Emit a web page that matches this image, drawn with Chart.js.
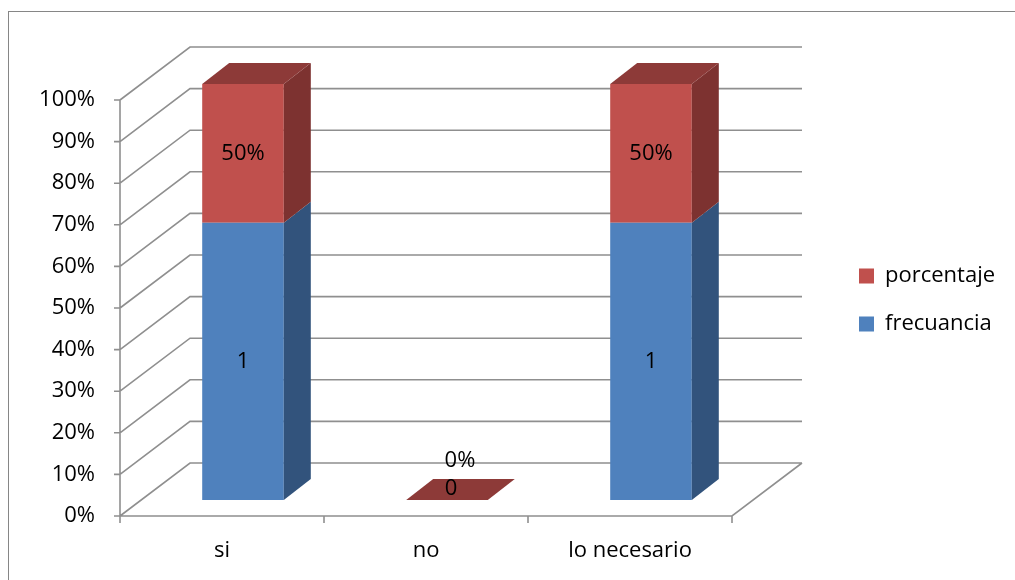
<!DOCTYPE html>
<html lang="es">
<head>
<meta charset="UTF-8">
<title>frecuancia / porcentaje</title>
<script src="https://cdn.jsdelivr.net/npm/chart.js"></script>
<style>
  html, body { margin: 0; padding: 0; background: #fff; }
  canvas { display: block; }
</style>
</head>
<body>
<canvas id="chart" width="1015" height="580"></canvas>
<script>
  const categories = ['si', 'no', 'lo necesario'];
  const frecuancia = [1, 0, 1];
  const porcentaje = [0.5, 0, 0.5];
  const seriesNames = ['frecuancia', 'porcentaje'];
  const seriesFront = ['#4F81BD', '#C0504D'];
  const seriesSide = ['#32537C', '#7D3230'];
  const topColor = '#8D3A38';

  // 100% stacked: each column is split by its share of the category total
  const totals = categories.map((_, i) => frecuancia[i] + porcentaje[i]);
  const share = arr => arr.map((v, i) => totals[i] ? v / totals[i] : 0);
  const labelText = [v => String(v), v => Math.round(v * 100) + '%'];
  const rawValues = [frecuancia, porcentaje];

  const FONT = '"Open Sans", sans-serif';
  const GRID = '#8f8f8f';
  const WALL = { x: 70, y: -53 };   // back wall relative to the front axis plane
  const FACE = { x: 21, y: -16 };   // bar front face relative to the front plane
  const DEPTH = { x: 27, y: -21 };  // bar depth
  const AREA_RIGHT = 732;
  const LEGEND_X = 859, LEGEND_DY = -40;
  const LP = 26, BOX = 15, FS = 22;

  Chart.defaults.font.family = FONT;
  Chart.defaults.font.size = FS;
  Chart.defaults.color = '#000';

  const poly = (ctx, pts, fill) => {
    ctx.beginPath();
    ctx.moveTo(pts[0][0], pts[0][1]);
    pts.slice(1).forEach(p => ctx.lineTo(p[0], p[1]));
    ctx.closePath();
    ctx.fillStyle = fill;
    ctx.fill();
  };

  const box3d = {
    id: 'box3d',
    beforeDraw(chart) {
      const { ctx } = chart;
      ctx.save();
      ctx.strokeStyle = '#868686';
      ctx.lineWidth = 1;
      ctx.strokeRect(8.5, 11.5, 1200, 800);
      ctx.restore();
    },
    afterLayout(chart) {
      const lg = chart.legend;
      lg.left = LEGEND_X - LP;
      lg.right = lg.left + lg.width;
      lg.top += LEGEND_DY;
      lg.bottom += LEGEND_DY;
    },
    beforeDatasetsDraw(chart) {
      const { ctx, chartArea: a, scales: { x, y } } = chart;
      ctx.save();
      ctx.strokeStyle = GRID;
      ctx.lineWidth = 1.6;
      ctx.beginPath();
      y.ticks.forEach(t => {
        const py = y.getPixelForValue(t.value);
        ctx.moveTo(a.left, py);
        ctx.lineTo(a.left + WALL.x, py + WALL.y);
        ctx.lineTo(a.right + WALL.x, py + WALL.y);
        ctx.moveTo(a.left - 6, py);
        ctx.lineTo(a.left, py);
      });
      ctx.moveTo(a.left, a.top);
      ctx.lineTo(a.left, a.bottom);
      ctx.lineTo(a.right, a.bottom);
      ctx.lineTo(a.right + WALL.x, a.bottom + WALL.y);
      const cw = (a.right - a.left) / categories.length;
      for (let i = 0; i <= categories.length; i++) {
        const px = x.getPixelForValue(0) - cw / 2 + i * cw;
        ctx.moveTo(px, a.bottom);
        ctx.lineTo(px, a.bottom + 7);
      }
      ctx.stroke();
      ctx.restore();

      ctx.save();
      ctx.translate(FACE.x, FACE.y);
    },
    afterDatasetsDraw(chart) {
      const { ctx } = chart;
      const last = chart.data.datasets.length - 1;
      chart.data.datasets.forEach((ds, di) => {
        chart.getDatasetMeta(di).data.forEach(el => {
          const l = el.x - el.width / 2, r = el.x + el.width / 2;
          if (Math.abs(el.base - el.y) > 0.5) {
            poly(ctx, [[r, el.y], [r + DEPTH.x, el.y + DEPTH.y],
              [r + DEPTH.x, el.base + DEPTH.y], [r, el.base]], seriesSide[di]);
          }
          if (di === last) {
            poly(ctx, [[l, el.y], [l + DEPTH.x, el.y + DEPTH.y],
              [r + DEPTH.x, el.y + DEPTH.y], [r, el.y]], topColor);
          }
        });
      });

      // value labels
      ctx.font = FS + 'px ' + FONT;
      ctx.fillStyle = '#000';
      ctx.textAlign = 'center';
      ctx.textBaseline = 'middle';
      chart.data.datasets.forEach((ds, di) => {
        chart.getDatasetMeta(di).data.forEach((el, i) => {
          const txt = labelText[di](rawValues[di][i]);
          if (Math.abs(el.base - el.y) > 0.5) {
            ctx.fillText(txt, el.x, (el.y + el.base) / 2);
          } else if (di === 0) {
            ctx.fillText(txt, el.x + 4, el.base - 11);
          } else {
            ctx.fillText(txt, el.x + 13, el.base - 39);
          }
        });
      });
      ctx.restore();
    }
  };

  const chart = new Chart(document.getElementById('chart'), {
    type: 'bar',
    data: {
      labels: categories,
      datasets: rawValues.map((vals, di) => ({
        label: seriesNames[di],
        data: share(vals),
        backgroundColor: seriesFront[di],
        borderWidth: 0,
        yAxisID: 'y',
        clip: false,
        barPercentage: 0.4,
        categoryPercentage: 1
      }))
    },
    options: {
      responsive: false,
      animation: false,
      layout: { padding: { top: 100, left: 0, right: 0, bottom: 0 } },
      plugins: {
        tooltip: { enabled: false },
        legend: {
          position: 'right',
          reverse: true,
          labels: { boxWidth: BOX, boxHeight: BOX, padding: LP, color: '#000', font: { size: FS } }
        }
      },
      scales: {
        x: {
          stacked: true,
          grid: { display: false, drawTicks: false },
          border: { display: false },
          ticks: { padding: 22, color: '#000' },
          afterFit(s) { s.height = 64; }
        },
        y: {
          stacked: true,
          min: 0,
          max: 1,
          grid: { display: false, drawTicks: false },
          border: { display: false },
          ticks: { stepSize: 0.1, padding: 25, color: '#000', callback: v => Math.round(v * 100) + '%' },
          afterFit(s) { s.width = 120; }
        },
        // empty spacer between the plot and the legend
        gap: {
          type: 'linear',
          position: 'right',
          grid: { display: false, drawTicks: false },
          border: { display: false },
          ticks: { display: false },
          afterFit(s) {
            const lg = s.chart.legend;
            const lw = lg && lg.width ? lg.width : 200;
            s.width = Math.max(0, 1015 - AREA_RIGHT - lw);
          }
        }
      }
    },
    plugins: [box3d]
  });
  // second pass so the spacer sees the fitted legend width
  chart.update();
</script>
</body>
</html>
